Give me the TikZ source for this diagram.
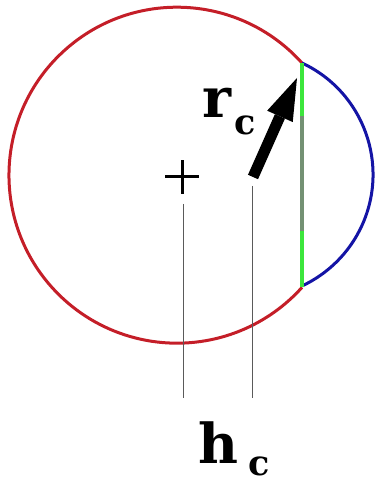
\documentclass[tikz,border=0pt]{standalone}
\usepackage{fontspec}
\setmainfont{DejaVu Serif}
\usetikzlibrary{arrows.meta}
\definecolor{cred}{RGB}{196,30,40}
\definecolor{cblue}{RGB}{20,20,165}
\definecolor{cgreen}{RGB}{60,230,60}
\definecolor{cgrey}{RGB}{115,145,115}
\definecolor{cline}{RGB}{90,90,90}
\tikzset{
  redarc/.style={draw=cred,line width=3pt},
  bluearc/.style={draw=cblue,line width=3pt},
  chord/.style={line width=4pt},
  guide/.style={draw=cline,line width=1pt},
  crossline/.style={draw=black,line width=3pt},
  bigarrow/.style={line width=11pt,-{Triangle[length=42pt,width=28pt,line width=0pt]}},
  lab/.style={inner sep=0pt,anchor=base west,font=\bfseries\fontsize{55}{60}\selectfont}
}
\begin{document}
\begin{tikzpicture}[x=1pt,y=1pt]
\useasboundingbox (0,0) rectangle (376,485);
\coordinate (T) at (302,422);
\coordinate (B) at (302,198);
\coordinate (G1) at (302,369);
\coordinate (G2) at (302,254);
% red circle arc
\draw[redarc] (T) arc[start angle=41.9,end angle=318.1,radius=168pt];
% blue arc
\draw[bluearc] (T) arc[start angle=65,end angle=-65,radius=123pt];
% chord
\draw[chord,cgreen] (T) -- (G1);
\draw[chord,cgrey] (G1) -- (G2);
\draw[chord,cgreen] (G2) -- (B);
% cross
\coordinate (C) at (182,308);
\draw[crossline] ([xshift=-17pt]C) -- ([xshift=17pt]C);
\draw[crossline] ([yshift=-17pt]C) -- ([yshift=17pt]C);
% guides
\coordinate (L1a) at (183,281);
\coordinate (L1b) at (183,87);
\coordinate (L2a) at (252,299);
\coordinate (L2b) at (252,87);
\draw[guide] (L1a) -- (L1b);
\draw[guide] (L2a) -- (L2b);
% arrow
\coordinate (tail) at (253,308);
\coordinate (tip) at (297,407);
\draw[bigarrow] (tail) -- (tip);
% labels
\node[lab] (rlab) at (202,367) {r\hspace{3pt}\raisebox{-17pt}{\fontsize{35}{40}\selectfont c}};
\node[lab] (hlab) at (198,21) {h\hspace{10pt}\raisebox{-12pt}{\fontsize{35}{40}\selectfont c}};
\end{tikzpicture}
\end{document}
